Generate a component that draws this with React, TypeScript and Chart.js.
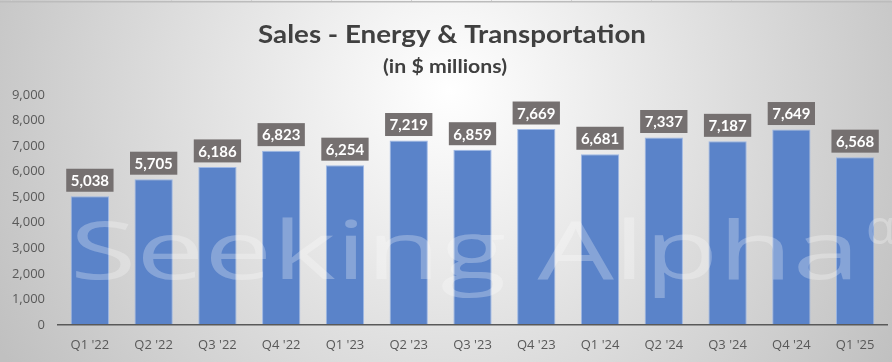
import React, { useEffect, useRef } from "react";
import { Chart, registerables } from "chart.js";

Chart.register(...registerables);

const categories = ["Q1 '22", "Q2 '22", "Q3 '22", "Q4 '22", "Q1 '23", "Q2 '23", "Q3 '23", "Q4 '23", "Q1 '24", "Q2 '24", "Q3 '24", "Q4 '24", "Q1 '25"];
const sales = [5038, 5705, 6186, 6823, 6254, 7219, 6859, 7669, 6681, 7337, 7187, 7649, 6568];
const yMin = 0;
const yMax = 9000;
const yStep = 1000;
const titleText = "Sales - Energy & Transportation";
const subtitleText = "(in $ millions)";
const watermarkText = "Seeking Alpha";

const W = 892;
const H = 362;

const fmt = (v: number) => v.toLocaleString("en-US");

function stretchedText(ctx: any, text: string, cx: number, baseline: number, targetW: number) {
  const m = ctx.measureText(text).width;
  ctx.save();
  ctx.translate(cx, baseline);
  ctx.scale(targetW / m, 1);
  ctx.textAlign = "center";
  ctx.fillText(text, 0, 0);
  ctx.restore();
}

const backgroundPlugin = {
  id: "bg",
  beforeDraw(chart: any) {
    const ctx = chart.ctx;
    ctx.save();
    const g = ctx.createRadialGradient(450, 90, 0, 450, 90, 520);
    g.addColorStop(0, "#ffffff");
    g.addColorStop(1, "#c0c0c0");
    ctx.fillStyle = g;
    ctx.fillRect(0, 0, W, H);
    ctx.fillStyle = "#bcbcbc";
    ctx.fillRect(0, 1, W, 1.5);
    ctx.fillStyle = "#d0d0d0";
    for (let x = 11; x < W; x += 80) ctx.fillRect(x, 0, 1, 1);
    // titles
    ctx.fillStyle = "#404040";
    ctx.textBaseline = "alphabetic";
    ctx.font = "bold 25px Lato, 'Open Sans', sans-serif";
    stretchedText(ctx, titleText, 452, 43, 388);
    ctx.font = "bold 18px Lato, 'Open Sans', sans-serif";
    stretchedText(ctx, subtitleText, 445, 73, 124);
    ctx.restore();
  },
};

const overlayPlugin = {
  id: "overlay",
  afterDatasetsDraw(chart: any) {
    const ctx = chart.ctx;
    ctx.save();
    // watermark
    ctx.fillStyle = "rgba(255,255,255,0.27)";
    ctx.textAlign = "left";
    ctx.textBaseline = "alphabetic";
    ctx.font = "400 80px 'Open Sans', sans-serif";
    const target = 790;
    const m = ctx.measureText(watermarkText).width;
    ctx.save();
    ctx.translate(70, 279);
    ctx.scale(target / m, 1);
    ctx.fillText(watermarkText, 0, 0);
    ctx.restore();
    ctx.font = "400 48px 'Open Sans', sans-serif";
    ctx.fillText("α", 866, 244);

    // data labels
    const meta = chart.getDatasetMeta(0);
    ctx.font = "bold 15px Lato, 'Open Sans', sans-serif";
    ctx.textAlign = "center";
    ctx.textBaseline = "middle";
    meta.data.forEach((bar: any, i: number) => {
      const label = fmt(sales[i]);
      const tw = ctx.measureText(label).width;
      const bw = tw + 9;
      const bh = 23;
      const bottom = bar.y - 4.5;
      ctx.fillStyle = "#757070";
      ctx.fillRect(bar.x - bw / 2, bottom - bh, bw, bh);
      ctx.fillStyle = "#ffffff";
      ctx.fillText(label, bar.x, bottom - bh / 2 + 1);
    });
    ctx.restore();
  },
};

export default function App() {
  const ref = useRef<HTMLCanvasElement | null>(null);
  useEffect(() => {
    document.body.style.margin = "0";
    if (!ref.current) return;
    const chart = new Chart(ref.current, {
      type: "bar",
      data: {
        labels: categories,
        datasets: [
          {
            data: sales,
            backgroundColor: "#5a83c9",
            borderColor: "rgba(150,178,228,0.9)",
            borderWidth: 1,
            barPercentage: 0.6,
            categoryPercentage: 1.0,
          },
        ],
      },
      options: {
        responsive: false,
        animation: false,
        layout: { padding: { top: 95, left: 0, right: 5, bottom: 0 } },
        plugins: {
          legend: { display: false },
          tooltip: { enabled: false },
          title: { display: false },
        },
        scales: {
          x: {
            grid: { display: false, drawTicks: false },
            border: { display: true, color: "#595959", width: 1.5, z: 1 },
            ticks: {
              color: "#595959",
              font: { family: "'Open Sans', sans-serif", size: 13 },
              padding: 12,
              maxRotation: 0,
              autoSkip: false,
            },
            afterFit(scale: any) {
              scale.height = 37;
            },
          },
          y: {
            min: yMin,
            max: yMax,
            grid: { display: false, drawTicks: false },
            border: { display: false },
            ticks: {
              stepSize: yStep,
              color: "#595959",
              font: { family: "'Open Sans', sans-serif", size: 13 },
              padding: 13,
              callback: (v: any) => fmt(Number(v)),
            },
            afterFit(scale: any) {
              scale.width = 58;
            },
          },
        },
      },
      plugins: [backgroundPlugin, overlayPlugin],
    });
    return () => chart.destroy();
  }, []);
  return <canvas ref={ref} width={W} height={H} style={{ display: "block", width: W, height: H }} />;
}
